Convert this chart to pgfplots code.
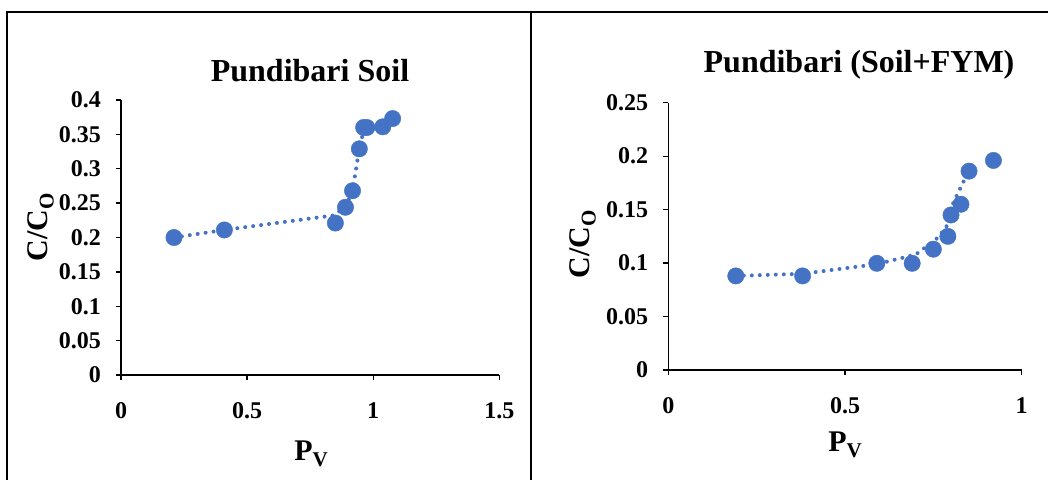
\documentclass[border=0pt]{standalone}
\usepackage{pgfplots}
\pgfplotsset{compat=1.18}
\usepackage{fontspec}
\setmainfont{Liberation Serif}
\definecolor{xblue}{HTML}{4472C4}

\pgfplotsset{
  excelaxis/.style={
    scale only axis, axis lines=left,
    axis line style={-, line width=1.3pt, black},
    tick align=outside, major tick length=5pt,
    every tick/.style={black, line width=1.3pt},
    ticklabel style={font=\fontsize{24}{24}\selectfont\bfseries, inner sep=0pt},
    xticklabel style={anchor=north, yshift=-22pt},
    yticklabel style={anchor=east, xshift=-15pt},
    clip=false, anchor=south west,
  },
  dotline/.style={xblue, line width=4pt, line cap=round, dash pattern=on 0pt off 8pt},
  dotmarks/.style={only marks, mark=*, mark size=8.2pt, mark options={draw=xblue, fill=xblue}},
}

\begin{document}
\begin{tikzpicture}[x=1pt,y=-1pt]
\path[use as bounding box] (0,0) rectangle (1048,480);
\draw[line width=1.8pt] (1048,12) -- (7,12) -- (7,480);
\draw[line width=1.8pt] (531,12) -- (531,480);

% Left chart
\begin{axis}[excelaxis, at={(121pt,-375pt)}, width=378.3pt, height=275pt,
  xmin=0, xmax=1.5, ymin=0, ymax=0.4,
  xtick={0,0.5,1,1.5}, xticklabels={0,0.5,1,1.5},
  ytick={0,0.05,0.1,0.15,0.2,0.25,0.3,0.35,0.4},
  yticklabels={0,0.05,0.1,0.15,0.2,0.25,0.3,0.35,0.4}]
\addplot[dotline] coordinates {(0.21,0.2) (0.41,0.211) (0.84,0.232) (0.89,0.244) (0.918,0.268) (0.945,0.329) (0.965,0.36) (1.038,0.361) (1.077,0.373)};
\addplot[dotmarks] coordinates {(0.21,0.2) (0.41,0.211) (0.85,0.221) (0.89,0.244) (0.918,0.268) (0.945,0.329) (0.962,0.36) (0.975,0.36) (1.038,0.361) (1.077,0.373)};
\end{axis}

% Right chart
\begin{axis}[excelaxis, at={(668.3pt,-370pt)}, width=353.4pt, height=267.3pt,
  xmin=0, xmax=1, ymin=0, ymax=0.25,
  xtick={0,0.5,1}, xticklabels={0,0.5,1},
  ytick={0,0.05,0.1,0.15,0.2,0.25},
  yticklabels={0,0.05,0.1,0.15,0.2,0.25}]
\addplot[dotline] coordinates {(0.191,0.088) (0.38,0.090) (0.59,0.099) (0.70,0.108) (0.757,0.122) (0.786,0.133) (0.806,0.156) (0.835,0.176) (0.851,0.186)};
\addplot[dotmarks] coordinates {(0.191,0.088) (0.38,0.088) (0.59,0.0998) (0.69,0.0998) (0.75,0.113) (0.791,0.125) (0.80,0.145) (0.828,0.155) (0.851,0.186) (0.92,0.196)};
\end{axis}

% Titles and axis labels
\node[anchor=base, font=\fontsize{32}{32}\selectfont\bfseries] at (310,81) {Pundibari Soil};
\node[anchor=base, font=\fontsize{32}{32}\selectfont\bfseries] at (859,72) {Pundibari (Soil+FYM)};
\node[anchor=base, rotate=90, font=\fontsize{30}{30}\selectfont\bfseries] at (47,227) {C/C\raisebox{-0.22em}{\fontsize{21}{21}\selectfont O}};
\node[anchor=base, rotate=90, font=\fontsize{30}{30}\selectfont\bfseries] at (589,244) {C/C\raisebox{-0.22em}{\fontsize{21}{21}\selectfont O}};
\node[anchor=base, font=\fontsize{30}{30}\selectfont\bfseries] at (311,460) {P\raisebox{-0.22em}{\fontsize{21}{21}\selectfont V}};
\node[anchor=base, font=\fontsize{30}{30}\selectfont\bfseries] at (845,451) {P\raisebox{-0.22em}{\fontsize{21}{21}\selectfont V}};
\end{tikzpicture}
\end{document}
